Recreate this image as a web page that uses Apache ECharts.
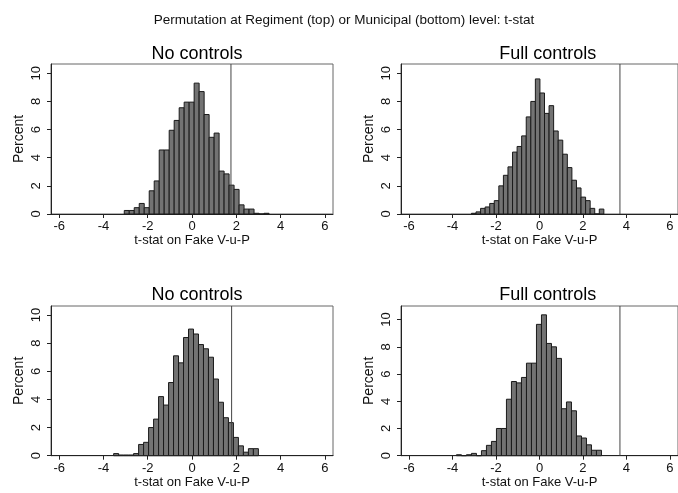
<!DOCTYPE html>
<html>
<head>
<meta charset="utf-8">
<script src="https://cdn.jsdelivr.net/npm/echarts@6/dist/echarts.min.js"></script>
<style>
html,body{margin:0;padding:0;background:#fff}
#main{width:678px;height:493px}
</style>
</head>
<body>
<div id="main"></div>
<script>
// 四个面板: 左上/右上 = Regiment, 左下/右下 = Municipal
var panelTitles = ['No controls', 'Full controls', 'No controls', 'Full controls'];
var binStart = [-3.06, -3.13, -3.54, -3.82];
var binWidth = [0.2255, 0.21, 0.2255, 0.23];

// 每个 bin 的百分比
var pctRegNo = [0.25,0.25,0.45,0.75,0.45,1.65,2.35,4.55,4.55,5.95,6.65,7.55,7.95,7.95,9.3,
  8.7,7.07,5.45,5.75,3.05,2.85,2.05,1.75,0.65,0.35,0.35,0.05,0,0.05];
var pctRegFull = [0.05,0.15,0.4,0.5,0.75,0.95,2.0,2.75,3.35,4.4,4.8,5.55,6.9,8.0,9.6,
  8.6,7.15,7.7,5.9,5.25,4.25,3.3,2.4,1.85,1.2,0.95,0.4,0,0.35];
var pctMunNo = [0.15,0.05,0.05,0.05,0.15,0.8,0.95,2.0,2.6,4.2,3.6,5.2,7.1,6.6,8.4,
  9.0,8.65,7.9,7.6,7.0,5.45,3.8,2.7,2.35,1.3,0.7,0.25,0.5,0.5];
var pctMunFull = [0.07,0,0.07,0.17,0,0.37,0.76,1.05,2.0,2.0,4.15,5.45,5.35,5.75,6.8,
  6.8,9.65,10.35,8.25,8.0,7.15,3.45,3.95,3.3,1.45,1.3,0.8,0.4,0.4];
var panelPct = [pctRegNo, pctRegFull, pctMunNo, pctMunFull];

// 真实 t 值 (竖线)
var trueStat = [1.76, 3.70, 1.79, 3.70];
var yMax = [10.66, 10.66, 10.64, 11.0];
var xTicks = [-6, -4, -2, 0, 2, 4, 6];
var yTicks = [0, 2, 4, 6, 8, 10];

var font = "'Liberation Sans', Arial, Helvetica, sans-serif";

var grids = [
  {left: 51, right: 345, top: 64, height: 150},
  {left: 401, right: -6, top: 64, height: 150},
  {left: 51, right: 345, top: 306, height: 149.7},
  {left: 401, right: -6, top: 306, height: 149.7}
];
var titleX = [192, 542.7, 192, 542.7];
var titleTop = [40, 40, 281, 281];

var chart = echarts.init(document.getElementById('main'));

var option = {
  backgroundColor: '#fff',
  animation: false,
  title: [{
    text: 'Permutation at Regiment (top) or Municipal (bottom) level: t-stat',
    left: 339, top: 8, textAlign: 'center',
    textStyle: {fontFamily: font, fontSize: 13.5, fontWeight: 'normal', color: '#111'}
  }],
  grid: [], xAxis: [], yAxis: [], series: []
};

grids.forEach(function(g, i){
  option.grid.push({
    left: g.left, right: g.right, top: g.top, height: g.height,
    show: true, borderColor: '#666', borderWidth: 1, backgroundColor: '#fff'
  });
  option.title.push({
    text: panelTitles[i], left: titleX[i], top: titleTop[i], textAlign: 'center',
    textStyle: {fontFamily: font, fontSize: 18, fontWeight: 'normal', color: '#000'}
  });
  option.xAxis.push({
    type: 'value', gridIndex: i, min: -6.37, max: 6.37,
    axisLine: {show: true, onZero: false, lineStyle: {color: '#222', width: 1}},
    axisTick: {show: true, customValues: xTicks, length: 4, lineStyle: {color: '#222'}},
    axisLabel: {customValues: xTicks, fontFamily: font, fontSize: 13, color: '#111', margin: 6},
    splitLine: {show: false},
    name: 't-stat on Fake V-u-P', nameLocation: 'middle', nameGap: 20,
    nameTextStyle: {fontFamily: font, fontSize: 13, color: '#111'}
  });
  option.yAxis.push({
    type: 'value', gridIndex: i, min: 0, max: yMax[i],
    axisLine: {show: true, onZero: false, lineStyle: {color: '#222', width: 1}},
    axisTick: {show: true, customValues: yTicks, length: 4, lineStyle: {color: '#222'}},
    axisLabel: {customValues: yTicks, rotate: 90, fontFamily: font, fontSize: 13, color: '#111', margin: 8},
    splitLine: {show: false},
    name: 'Percent', nameLocation: 'middle', nameGap: 25,
    nameTextStyle: {fontFamily: font, fontSize: 14, color: '#111'}
  });

  var bins = panelPct[i].map(function(p, k){
    var lo = binStart[i] + k * binWidth[i];
    return [lo, lo + binWidth[i], p];
  });

  option.series.push({
    type: 'custom', xAxisIndex: i, yAxisIndex: i,
    data: bins,
    encode: {x: [0, 1], y: 2},
    renderItem: function(params, api){
      var p0 = api.coord([api.value(0), api.value(2)]);
      var p1 = api.coord([api.value(1), 0]);
      return {
        type: 'rect',
        shape: {x: p0[0], y: p0[1], width: p1[0] - p0[0], height: p1[1] - p0[1]},
        style: {fill: '#737373', stroke: '#1a1a1a', lineWidth: 1}
      };
    }
  });

  option.series.push({
    type: 'line', xAxisIndex: i, yAxisIndex: i,
    data: [[trueStat[i], 0], [trueStat[i], yMax[i]]],
    symbol: 'none', silent: true,
    lineStyle: {color: '#444', width: 1}
  });
});

chart.setOption(option);
</script>
</body>
</html>
